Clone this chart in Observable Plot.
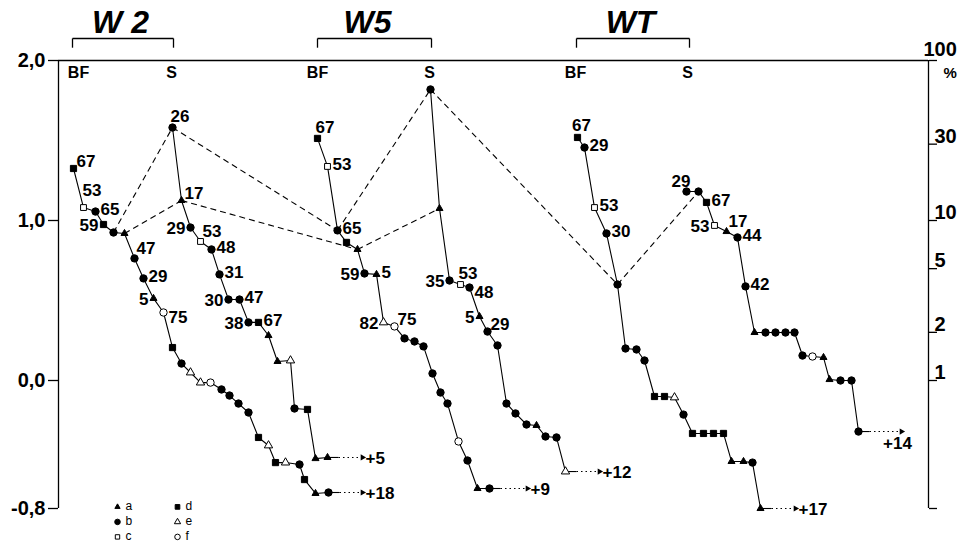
<!DOCTYPE html>
<html><head><meta charset="utf-8">
<script src="https://cdn.jsdelivr.net/npm/d3@7"></script>
<script src="https://cdn.jsdelivr.net/npm/@observablehq/plot@0.6"></script>
<style>
html,body{margin:0;padding:0;background:#fff;}
#chart svg{font-family:"Liberation Sans",Arial,Helvetica,sans-serif;display:block;}
</style></head><body><div id="chart"></div>
<script>
// Each point: [position along sequence, log10 value, marker type, label, label side]
const w2BF = [
 [1.5, 1.325, "d", "67", "ru"], [2.5, 1.081, "c", "53", "aa"], [3.7, 1.056, "b", "65", "r"],
 [4.5, 0.975, "d", "59", "l"], [5.5, 0.925, "b"], [6.6, 0.919, "a"],
 [7.6, 0.763, "b", "47", "ar"], [8.5, 0.638, "b", "29", "r"], [9.5, 0.513, "a", "5", "l"],
 [10.5, 0.425, "f", "75", "rd"], [11.4, 0.206, "d"], [12.3, 0.106, "b"], [13.2, 0.05, "e"],
 [14.2, -0.013, "e"], [15.2, -0.013, "f"], [16.3, -0.056, "b"], [17.1, -0.094, "b"],
 [18.0, -0.144, "b"], [19.0, -0.2, "b"], [20.0, -0.356, "d"], [21.0, -0.406, "e"],
 [21.7, -0.513, "d"], [22.7, -0.513, "e"], [24.1, -0.525, "b"], [24.6, -0.619, "d"],
 [25.7, -0.706, "a"], [27.0, -0.7, "b"]
];
const w2S = [
 [11.4, 1.581, "b", "26", "a"], [12.3, 1.125, "a", "17", "ru"], [13.2, 0.956, "b", "29", "l"],
 [14.2, 0.869, "c", "53", "ar"], [15.3, 0.819, "b", "48", "r"], [16.1, 0.663, "b", "31", "r"],
 [17.0, 0.506, "b", "30", "l"], [18.1, 0.506, "b", "47", "r"], [19.0, 0.363, "b", "38", "l"],
 [20.0, 0.363, "d", "67", "r"], [21.0, 0.281, "a"], [21.9, 0.119, "a"], [23.2, 0.125, "e"],
 [23.6, -0.175, "b"], [24.9, -0.181, "d"], [25.7, -0.488, "a"], [26.9, -0.481, "a"]
];
const w5BF = [
 [25.9, 1.513, "d", "67", "a"], [26.9, 1.338, "c", "53", "r"], [27.9, 0.938, "b", "65", "r"],
 [28.8, 0.863, "d"], [29.9, 0.819, "a"], [30.6, 0.669, "b", "59", "l"],
 [31.8, 0.663, "a", "5", "r"], [32.5, 0.363, "e", "82", "l"], [33.6, 0.338, "f", "75", "ru"],
 [34.6, 0.263, "b"], [35.6, 0.244, "b"], [36.5, 0.213, "b"], [37.4, 0.044, "b"],
 [38.2, -0.075, "b"], [38.9, -0.144, "b"], [40.0, -0.381, "f"], [40.9, -0.5, "b"],
 [41.9, -0.675, "a"], [43.1, -0.675, "b"]
];
const w5S = [
 [37.2, 1.819, "b"], [38.1, 1.075, "a"], [39.1, 0.625, "b", "35", "l"],
 [40.2, 0.6, "c", "53", "a"], [41.1, 0.581, "b", "48", "rd"], [42.1, 0.4, "a", "5", "l"],
 [42.9, 0.306, "b", "29", "ru"], [43.9, 0.219, "b"], [44.8, -0.144, "b"], [45.7, -0.206, "b"],
 [46.8, -0.275, "b"], [47.8, -0.281, "a"], [48.7, -0.35, "b"], [49.8, -0.356, "b"],
 [50.7, -0.569, "e"]
];
const wtBF = [
 [51.9, 1.519, "d", "67", "am"], [52.6, 1.456, "b", "29", "r"], [53.6, 1.081, "c", "53", "r"],
 [54.8, 0.919, "b", "30", "r"], [55.9, 0.6, "b"], [56.7, 0.2, "b"], [57.8, 0.194, "b"],
 [58.6, 0.125, "b"], [59.6, -0.1, "d"], [60.6, -0.1, "d"], [61.6, -0.106, "e"],
 [62.5, -0.213, "b"], [63.4, -0.331, "d"], [64.5, -0.331, "d"], [65.5, -0.331, "d"],
 [66.5, -0.331, "d"], [67.3, -0.506, "a"], [68.5, -0.506, "a"], [69.4, -0.513, "b"],
 [70.2, -0.8, "a"]
];
const wtS = [
 [62.8, 1.181, "b", "29", "al"], [64.0, 1.181, "b"], [64.8, 1.113, "d", "67", "r"],
 [65.6, 0.969, "c", "53", "l"], [66.8, 0.931, "a", "17", "ar"], [67.9, 0.894, "b", "44", "r"],
 [68.7, 0.588, "b", "42", "r"], [69.6, 0.3, "a"], [70.7, 0.3, "b"], [71.7, 0.3, "b"],
 [72.7, 0.3, "b"], [73.6, 0.3, "b"], [74.4, 0.156, "b"], [75.4, 0.15, "f"],
 [76.5, 0.144, "a"], [77.1, 0.006, "a"], [78.2, 0, "b"], [79.3, 0, "b"], [80.0, -0.319, "b"]
];
// dashed connections: [series, index, series, index]
const dashedLinks = [
 ["w2BF", 4, "w2S", 0], ["w2BF", 5, "w2S", 1], ["w2S", 0, "w5BF", 2], ["w2S", 1, "w5BF", 4],
 ["w5BF", 2, "w5S", 0], ["w5BF", 4, "w5S", 1], ["w5S", 0, "wtBF", 4], ["wtBF", 4, "wtS", 1]
];
// continuation arrows at the end of each sequence
const seriesEnds = [
 {id: "w2BF", x2: 30.4, text: "+18", side: "r"},
 {id: "w2S", x2: 30.4, text: "+5", side: "r"},
 {id: "w5BF", x2: 46.9, text: "+9", side: "r"},
 {id: "w5S", x2: 54.1, text: "+12", side: "r"},
 {id: "wtBF", x2: 73.7, text: "+17", side: "r"},
 {id: "wtS", x2: 84.3, text: "+14", side: "b"}
];
const groups = [
 {name: "W 2", bf: 1.4, s: 11.5, title: 6.2, bfText: 2.0, sText: 11.3},
 {name: "W5", bf: 25.9, s: 37.3, title: 30.9, bfText: 25.9, sText: 37.1},
 {name: "WT", bf: 51.8, s: 63.1, title: 57.2, bfText: 51.7, sText: 62.9}
];
const leftTicks = [2, 1, 0, -0.8];
const rightTicks = [100, 30, 10, 5, 2, 1];
const legendTypes = ["a", "b", "c", "d", "e", "f"];

const seriesList = {w2BF, w2S, w5BF, w5S, wtBF, wtS};
const points = Object.entries(seriesList).flatMap(([id, arr]) =>
  arr.map(([x, y, t, label, side], i) => ({id, i, x, y, t, label, side})));
const find = (id, i) => seriesList[id][i];
const links = dashedLinks.map(([a, i, b, j]) => ({x1: find(a, i)[0], y1: find(a, i)[1], x2: find(b, j)[0], y2: find(b, j)[1]}));
const ends = seriesEnds.map(e => {
  const arr = seriesList[e.id]; const last = arr[arr.length - 1];
  return {...e, x1: last[0], y: last[1], xm: last[0] + 1.1};
});

const styles = {
  a: {symbol: "triangle", fill: "black", r: 2.6},
  b: {symbol: "circle", fill: "black", r: 3.7},
  c: {symbol: "square", fill: "white", r: 3.3},
  d: {symbol: "square", fill: "black", r: 3.5},
  e: {symbol: "triangle", fill: "white", r: 3.1},
  f: {symbol: "circle", fill: "white", r: 3.7}
};
const sides = {
  r: {textAnchor: "start", dx: 5, dy: -2},
  rd: {textAnchor: "start", dx: 5, dy: 5},
  ru: {textAnchor: "start", dx: 3, dy: -7},
  l: {textAnchor: "end", dx: -5, dy: 1},
  a: {textAnchor: "start", dx: -2, dy: -11},
  am: {textAnchor: "middle", dx: 4, dy: -12},
  al: {textAnchor: "end", dx: 4, dy: -10},
  ar: {textAnchor: "start", dx: 2, dy: -10},
  aa: {textAnchor: "start", dx: -1, dy: -17}
};
const font = {fontSize: 17, fontWeight: "bold", fill: "black"};
const legend = legendTypes.map((t, i) => ({t, x: 5.9 + 6 * Math.floor(i / 3), y: -0.8 - (i % 3) * 15 / 160 + 0.01}));

const marks = [
  Plot.ruleX([0, 87], {y1: -0.8, y2: 2, stroke: "black", strokeWidth: 1.3}),
  Plot.ruleY([2], {x1: 0, x2: 87, stroke: "black", strokeWidth: 1.3}),
  Plot.axisY({anchor: "left", ticks: leftTicks, tickFormat: d => d.toFixed(1).replace(".", ","), tickSize: 10, tickPadding: 3, fontSize: 20, fontWeight: "bold", label: null, strokeWidth: 1.3}),
  Plot.axisY({anchor: "right", ticks: [...rightTicks.map(v => Math.log10(v)), -0.8], tickFormat: () => "", tickSize: 8, label: null, strokeWidth: 1.3}),
  Plot.text(rightTicks.filter(v => v !== 100), {x: 87, y: v => Math.log10(v), text: v => String(v), textAnchor: "start", dx: 6, dy: -8, fontSize: 20, fontWeight: "bold"}),
  Plot.text([100], {x: 87, y: v => Math.log10(v), text: v => String(v), textAnchor: "start", dx: -5, dy: -11, fontSize: 20, fontWeight: "bold"}),
  Plot.text(["%"], {x: 87, y: 2, text: d => d, textAnchor: "start", dx: 15, dy: 13, fontSize: 15, fontWeight: "bold"}),
  // group brackets and titles
  Plot.link(groups, {x1: "bf", x2: "s", y1: 2.1375, y2: 2.1375, stroke: "black", strokeWidth: 1.3}),
  Plot.link(groups, {x1: "bf", x2: "bf", y1: 2.1375, y2: 2.08, stroke: "black", strokeWidth: 1.3}),
  Plot.link(groups, {x1: "s", x2: "s", y1: 2.1375, y2: 2.08, stroke: "black", strokeWidth: 1.3}),
  Plot.text(groups, {x: "title", y: 2, text: "name", dy: -38, fontSize: 32, fontStyle: "italic", fontWeight: "bold"}),
  Plot.text(groups, {x: "bfText", y: 2, text: () => "BF", dy: 12, fontSize: 16, fontWeight: "bold"}),
  Plot.text(groups, {x: "sText", y: 2, text: () => "S", dy: 12, fontSize: 16, fontWeight: "bold"}),
  // dashed links
  Plot.link(links, {x1: "x1", y1: "y1", x2: "x2", y2: "y2", stroke: "black", strokeWidth: 1.1, strokeDasharray: "6,4"}),
  // sequences
  Plot.line(points, {x: "x", y: "y", z: "id", stroke: "black", strokeWidth: 1.1}),
  // continuation arrows
  Plot.link(ends, {x1: "x1", x2: "xm", y1: "y", y2: "y", stroke: "black", strokeWidth: 1.1}),
  Plot.link(ends, {x1: "xm", x2: d => d.x2 - 0.3, y1: "y", y2: "y", stroke: "black", strokeWidth: 1.1, strokeDasharray: "1.5,3"}),
  Plot.dot(ends, {x: "x2", y: "y", symbol: "triangle", rotate: 90, r: 2.3, fill: "black", stroke: "none"}),
  ...Object.entries({r: {textAnchor: "start", dx: 3, dy: 1}, b: {textAnchor: "middle", dx: -4, dy: 12}}).map(([k, o]) =>
    Plot.text(ends.filter(e => e.side === k), {x: "x2", y: "y", text: "text", ...o, ...font})),
  // markers
  ...Object.entries(styles).map(([k, s]) =>
    Plot.dot(points.filter(p => p.t === k), {x: "x", y: "y", symbol: s.symbol, fill: s.fill, r: s.r, stroke: "black", strokeWidth: 1})),
  // point labels
  ...Object.entries(sides).map(([k, o]) =>
    Plot.text(points.filter(p => p.label && p.side === k), {x: "x", y: "y", text: "label", ...o, ...font})),
  // legend
  ...Object.entries(styles).map(([k, s]) =>
    Plot.dot(legend.filter(l => l.t === k), {x: "x", y: "y", symbol: s.symbol, fill: s.fill, r: s.r * 0.75, stroke: "black", strokeWidth: 1})),
  Plot.text(legend, {x: "x", y: "y", text: "t", textAnchor: "start", dx: 8, dy: -1, fontSize: 12, lineHeight: 1})
];

const chart = Plot.plot({
  width: 972, height: 556,
  marginLeft: 58, marginRight: 44, marginTop: 60, marginBottom: 48,
  x: {domain: [0, 87], axis: null},
  y: {domain: [-0.8, 2], axis: null},
  style: {background: "white", color: "black", overflow: "visible"},
  marks
});
document.getElementById("chart").appendChild(chart);
</script></body></html>
